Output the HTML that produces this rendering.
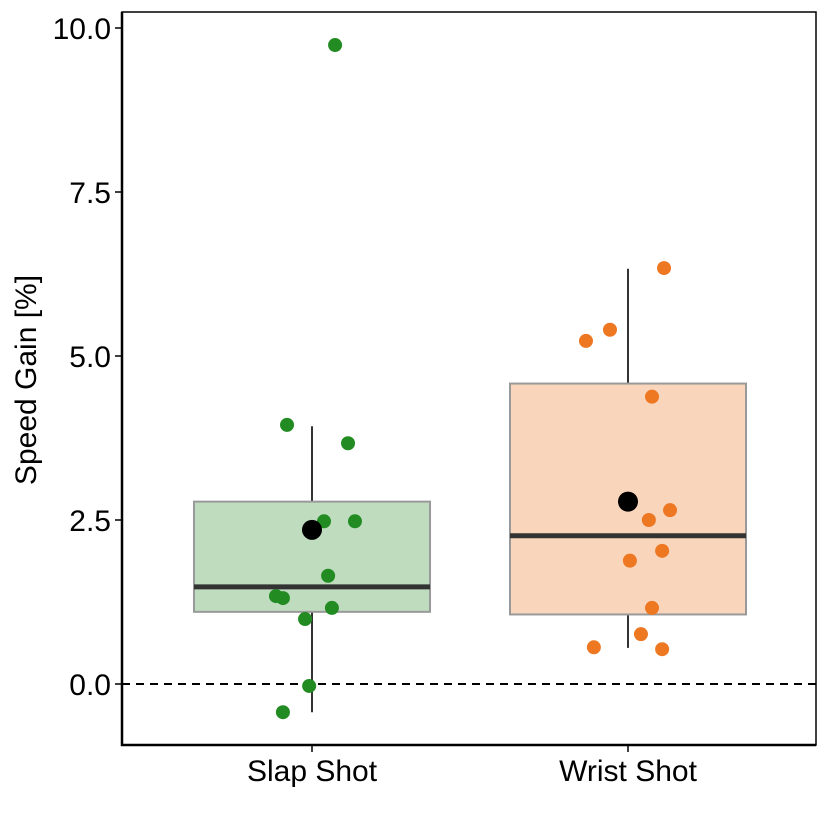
<!DOCTYPE html>
<html><head><meta charset="utf-8"><style>
body{margin:0;background:#fff}
svg text{font-family:"Liberation Sans",Arial,sans-serif;fill:#000}
</style></head><body>
<svg id="chart" width="830" height="830" xmlns="http://www.w3.org/2000/svg"></svg>
<script>
const categories=["Slap Shot","Wrist Shot"];
const boxQ1=[1.1,1.06];
const boxMedian=[1.48,2.26];
const boxQ3=[2.78,4.58];
const whiskerLow=[-0.43,0.55];
const whiskerHigh=[3.93,6.33];
const means=[2.35,2.78];
const slapValues=[9.74,3.95,3.67,2.48,2.48,1.65,1.34,1.31,1.16,0.99,-0.03,-0.43];
const slapJitter=[0.073,-0.079,0.114,0.038,0.136,0.051,-0.114,-0.092,0.063,-0.022,-0.009,-0.092];
const wristValues=[6.34,5.40,5.23,4.38,2.65,2.50,2.03,1.88,1.16,0.76,0.56,0.53];
const wristJitter=[0.114,-0.057,-0.133,0.076,0.133,0.066,0.108,0.006,0.076,0.041,-0.108,0.108];
const yTicks=[0,2.5,5,7.5,10];
const yTickLabels=["0.0","2.5","5.0","7.5","10.0"];

const svg=document.getElementById('chart');
const NS="http://www.w3.org/2000/svg";
const L=122,R=816,T=12,B=745;
const y=v=>684-v*65.6;
const x=i=>312+i*316;
const catW=316;
function mk(tag,attrs,parent){const e=document.createElementNS(NS,tag);for(const k in attrs)e.setAttribute(k,attrs[k]);(parent||svg).appendChild(e);return e;}

let zl=mk('line',{x1:L,x2:R,y1:y(0),y2:y(0),stroke:'#000','stroke-width':2,'stroke-dasharray':'8,6'});



const fills=['#bfdcbf','#f9d5bc'];
const ptColors=['#228B22','#EE7722'];
const vals=[slapValues,wristValues],jit=[slapJitter,wristJitter];
categories.forEach((c,i)=>{
  const cx=x(i),hw=118;
  let w=mk('line',{x1:cx,x2:cx,y1:y(whiskerLow[i]),y2:y(whiskerHigh[i]),stroke:'#333','stroke-width':2});
  
  
  let b=mk('rect',{x:cx-hw,y:y(boxQ3[i]),width:2*hw,height:y(boxQ1[i])-y(boxQ3[i]),fill:fills[i],stroke:'#999','stroke-width':2});
  
  
  let m=mk('line',{x1:cx-hw,x2:cx+hw,y1:y(boxMedian[i]),y2:y(boxMedian[i]),stroke:'#333','stroke-width':5});
  
  
  vals[i].forEach((v,j)=>{
    let p=mk('circle',{cx:cx+jit[i][j]*catW,cy:y(v),r:7,fill:ptColors[i]});
    
    
  });
  let mn=mk('circle',{cx:cx,cy:y(means[i]),r:10,fill:'#000'});
  
  
  let tk=mk('line',{x1:cx,x2:cx,y1:B,y2:B+7,stroke:'#000','stroke-width':1.5});
  
  
  let t=mk('text',{x:cx,y:781,'text-anchor':'middle','font-size':30});
  t.textContent=c;
  
  
});
yTicks.forEach((v,i)=>{
  let tk=mk('line',{x1:L-7,x2:L,y1:y(v),y2:y(v),stroke:'#000','stroke-width':1.5});
  
  
  let t=mk('text',{x:L-11,y:y(v)+11,'text-anchor':'end','font-size':30});
  t.textContent=yTickLabels[i];
  
  
});
let fr=mk('rect',{x:L,y:T,width:R-L,height:B-T,fill:'none',stroke:'#000','stroke-width':1.5});


let ax=mk('path',{d:`M${L},${T}V${B}H${R}`,fill:'none',stroke:'#000','stroke-width':2.5});


let yt=mk('text',{x:0,y:0,transform:'translate(36,380) rotate(-90)','text-anchor':'middle','font-size':30});
yt.textContent='Speed Gain [%]';


</script>
</body></html>
